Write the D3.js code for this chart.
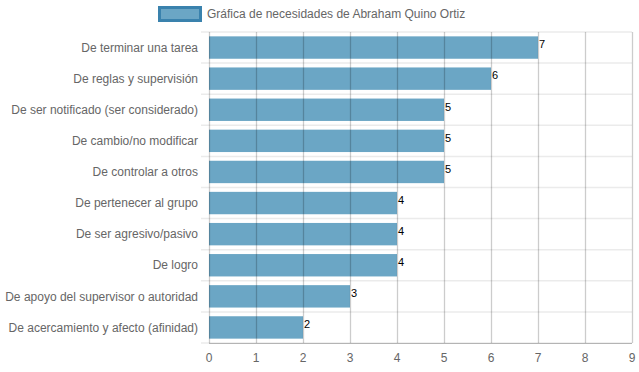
<!DOCTYPE html>
<html>
<head>
<meta charset="utf-8">
<script src="https://cdn.jsdelivr.net/npm/d3@7"></script>
<style>
  body { margin: 0; background: #fff; }
  svg text { font-family: "Liberation Sans", Arial, sans-serif; }
</style>
</head>
<body>
<svg id="chart" width="639" height="372"></svg>
<script>
// data
const categories = [
  'De terminar una tarea',
  'De reglas y supervisión',
  'De ser notificado (ser considerado)',
  'De cambio/no modificar',
  'De controlar a otros',
  'De pertenecer al grupo',
  'De ser agresivo/pasivo',
  'De logro',
  'De apoyo del supervisor o autoridad',
  'De acercamiento y afecto (afinidad)'
];
const values = [7, 6, 5, 5, 5, 4, 4, 4, 3, 2];
const xTicks = [0, 1, 2, 3, 4, 5, 6, 7, 8, 9];
const seriesName = 'Gráfica de necesidades de Abraham Quino Ortiz';

const svg = d3.select('#chart');

const plotLeft = 209, plotRight = 632, plotTop = 32, plotBottom = 343;

const xScale = d3.scaleLinear()
  .domain([0, 9])
  .range([plotLeft, plotRight]);

const yScale = d3.scaleBand()
  .domain(categories)
  .range([plotTop, plotBottom])
  .paddingInner(0.28)
  .paddingOuter(0.14);

const rowH = (plotBottom - plotTop) / categories.length;

// horizontal grid lines between categories
svg.append('g')
  .selectAll('line')
  .data(d3.range(categories.length + 1))
  .enter()
  .append('line')
  .attr('x1', plotLeft - 8)
  .attr('x2', plotRight)
  .attr('y1', (i) => plotTop + i * rowH)
  .attr('y2', (i) => plotTop + i * rowH)
  .attr('stroke', '#ebebeb')
  .attr('stroke-width', 1.5)

// bars
svg.append('g')
  .selectAll('rect')
  .data(values)
  .enter()
  .append('rect')
  .attr('x', xScale(0))
  .attr('y', (v, i) => yScale(categories[i]))
  .attr('width', (v) => xScale(v) - xScale(0))
  .attr('height', yScale.bandwidth())
  .attr('fill', '#6ba6c5')

// vertical grid lines over bars
svg.append('g')
  .selectAll('line')
  .data(xTicks)
  .enter()
  .append('line')
  .attr('x1', (t) => Math.round(xScale(t)) + 0.5)
  .attr('x2', (t) => Math.round(xScale(t)) + 0.5)
  .attr('y1', plotTop)
  .attr('y2', plotBottom)
  .attr('stroke', 'rgba(0,0,0,0.2)')
  .attr('stroke-width', 1.3)

// bottom axis line
svg.append('line')
  .attr('x1', plotLeft)
  .attr('x2', plotRight)
  .attr('y1', plotBottom + 0.5)
  .attr('y2', plotBottom + 0.5)
  .attr('stroke', 'rgba(0,0,0,0.25)')

// x tick labels
svg.append('g')
  .selectAll('text')
  .data(xTicks)
  .enter()
  .append('text')
  .attr('x', (t) => xScale(t))
  .attr('y', 362)
  .attr('text-anchor', 'middle')
  .attr('font-size', 12)
  .attr('fill', '#666')
  .text((t) => t)

// category labels
svg.append('g')
  .selectAll('text')
  .data(categories)
  .enter()
  .append('text')
  .attr('x', 198)
  .attr('y', (c) => yScale(c) + yScale.bandwidth() / 2)
  .attr('dy', '0.35em')
  .attr('text-anchor', 'end')
  .attr('font-size', 12)
  .attr('fill', '#666')
  .text((c) => c)

// value labels
svg.append('g')
  .selectAll('text')
  .data(values)
  .enter()
  .append('text')
  .attr('x', (v) => xScale(v) + 1)
  .attr('y', (v, i) => yScale(categories[i]) + 12)
  .attr('font-size', 11)
  .attr('fill', '#000')
  .text((v) => v)

// legend
svg.append('rect')
  .attr('x', 159.5)
  .attr('y', 7.5)
  .attr('width', 41)
  .attr('height', 13)
  .attr('fill', '#6ba6c5')
  .attr('stroke', '#3a82ad')
  .attr('stroke-width', 3)

svg.append('text')
  .attr('x', 207)
  .attr('y', 18)
  .attr('font-size', 12)
  .attr('fill', '#666')
  .text(seriesName)
</script>
</body>
</html>
